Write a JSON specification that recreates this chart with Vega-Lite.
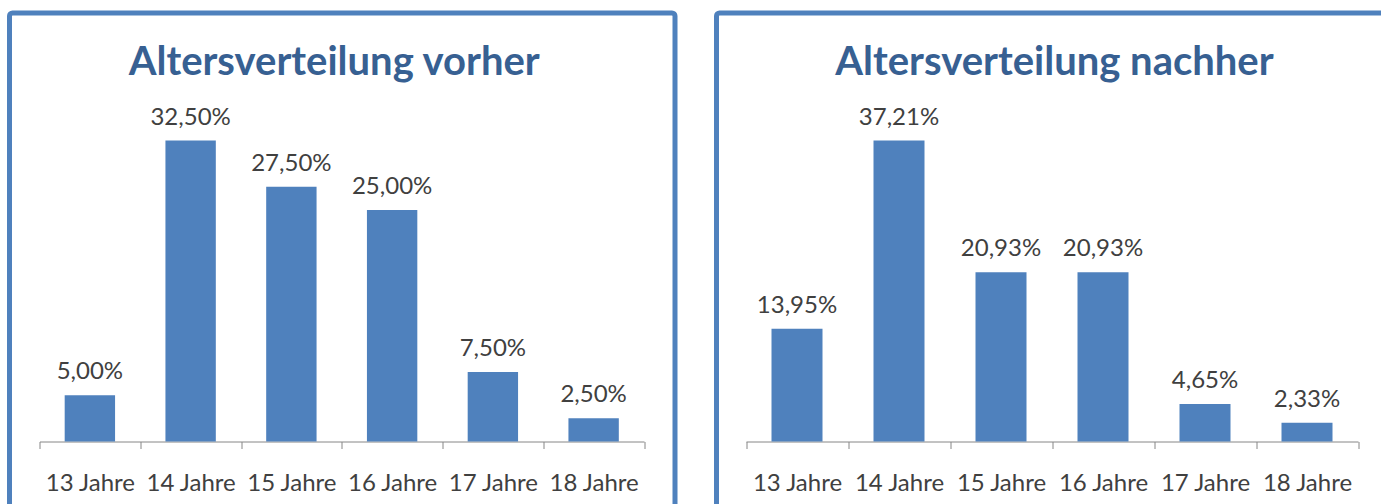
{
  "$schema": "https://vega.github.io/schema/vega-lite/v6.json",
  "padding": {"left": 6.5, "top": 10, "right": -17, "bottom": -6},
  "background": "white",
  "spacing": 41,
  "bounds": "flush",
  "datasets": {
    "vorher": [
      {"alter": "13 Jahre", "anteil": 0.05},
      {"alter": "14 Jahre", "anteil": 0.325},
      {"alter": "15 Jahre", "anteil": 0.275},
      {"alter": "16 Jahre", "anteil": 0.25},
      {"alter": "17 Jahre", "anteil": 0.075},
      {"alter": "18 Jahre", "anteil": 0.025}
    ],
    "nachher": [
      {"alter": "13 Jahre", "anteil": 0.1395},
      {"alter": "14 Jahre", "anteil": 0.3721},
      {"alter": "15 Jahre", "anteil": 0.2093},
      {"alter": "16 Jahre", "anteil": 0.2093},
      {"alter": "17 Jahre", "anteil": 0.0465},
      {"alter": "18 Jahre", "anteil": 0.0233}
    ]
  },
  "hconcat": [
    {
      "width": 665.5,
      "height": 495,
      "title": {"text": "Altersverteilung vorher", "dy": 73.5, "dx": -8},
      "data": {"name": "vorher"},
      "encoding": {
        "x": {"field": "alter", "type": "nominal", "sort": null,
              "scale": {"range": [30, 634.5], "paddingInner": 0, "paddingOuter": 0},
              "axis": {"title": null}}
      },
      "layer": [
        {"mark": {"type": "bar", "color": "#4f81bd", "width": {"band": 0.5}},
         "encoding": {
           "y": {"field": "anteil", "type": "quantitative", "scale": {"domain": [-0.0718, 0.46267], "nice": false, "zero": false}, "axis": null},
           "y2": {"datum": 0}
         }},
        {"mark": {"type": "text", "dy": -16, "baseline": "alphabetic", "align": "center", "font": "Lato", "fontSize": 24, "color": "#404040"},
         "encoding": {
           "y": {"field": "anteil", "type": "quantitative"},
           "text": {"field": "anteil", "type": "quantitative", "format": ".2%"}
         }}
      ]
    },
    {
      "width": 680,
      "height": 495,
      "title": {"text": "Altersverteilung nachher", "dy": 73.5, "dx": -2},
      "data": {"name": "nachher"},
      "encoding": {
        "x": {"field": "alter", "type": "nominal", "sort": null,
              "scale": {"range": [29.5, 641.5], "paddingInner": 0, "paddingOuter": 0},
              "axis": {"title": null}}
      },
      "layer": [
        {"mark": {"type": "bar", "color": "#4f81bd", "width": {"band": 0.5}},
         "encoding": {
           "y": {"field": "anteil", "type": "quantitative", "scale": {"domain": [-0.08221, 0.52972], "nice": false, "zero": false}, "axis": null},
           "y2": {"datum": 0}
         }},
        {"mark": {"type": "text", "dy": -16, "baseline": "alphabetic", "align": "center", "font": "Lato", "fontSize": 24, "color": "#404040"},
         "encoding": {
           "y": {"field": "anteil", "type": "quantitative"},
           "text": {"field": "anteil", "type": "quantitative", "format": ".2%"}
         }}
      ]
    }
  ],
  "config": {
    "locale": {"number": {"decimal": ",", "thousands": ".", "grouping": [3], "currency": ["", " €"]}},
    "view": {"stroke": "#4f81bd", "strokeWidth": 5, "cornerRadius": 3},
    "title": {"font": "Lato", "fontSize": 40, "fontWeight": "bold", "color": "#376092", "baseline": "alphabetic", "offset": 0, "frame": "group", "anchor": "middle"},
    "axisX": {
      "offset": -66.5,
      "domainColor": "#868686", "domainWidth": 1,
      "tickColor": "#868686", "tickSize": 7, "tickWidth": 1, "tickBand": "extent",
      "labelFont": "Lato", "labelFontSize": 24, "labelColor": "#404040",
      "labelAngle": 0, "labelBaseline": "alphabetic", "labelPadding": 42,
      "labelOverlap": false, "labelFlush": false, "grid": false
    }
  }
}
